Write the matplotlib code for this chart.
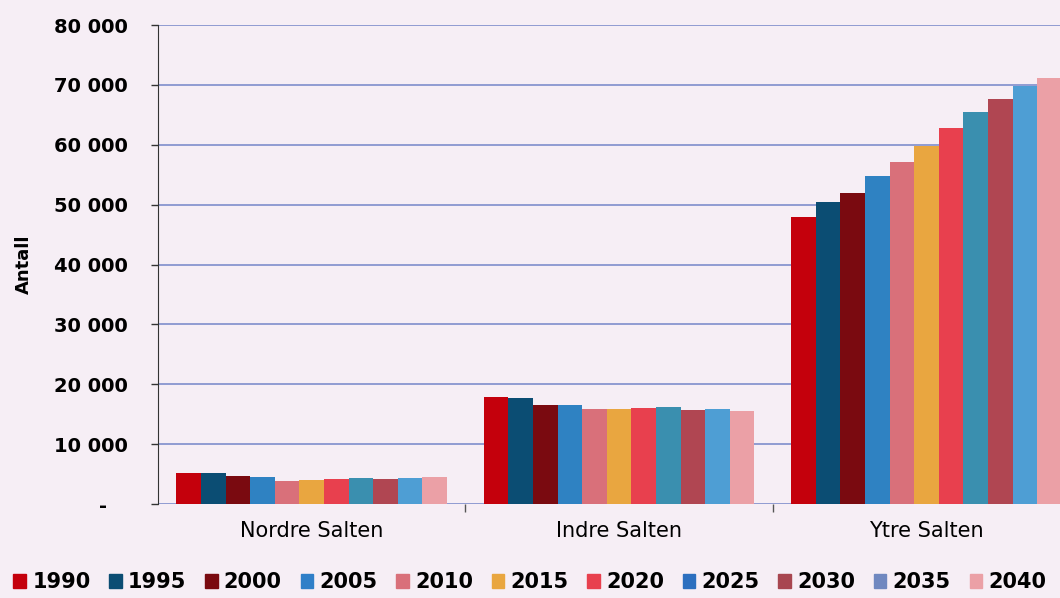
import numpy as np
import matplotlib.pyplot as plt
from matplotlib.ticker import FuncFormatter

# values
regions = ['Nordre Salten', 'Indre Salten', 'Ytre Salten']
years = ['1990', '1995', '2000', '2005', '2010', '2015', '2020', '2025', '2030', '2035', '2040']
nordre = [5200, 5150, 4700, 4600, 3900, 4100, 4200, 4300, 4200, 4400, 4450]
indre = [17900, 17800, 16600, 16500, 15900, 15900, 16000, 16200, 15800, 15900, 15500]
ytre = [47900, 50500, 52000, 54800, 57100, 59800, 62800, 65500, 67600, 69800, 71200]
colors = ['#C4000C', '#0B4D73', '#7A0A10', '#2F82C2', '#D9707A', '#E9A640',
          '#E8404E', '#3A8FAF', '#B04652', '#4E9ED4', '#EBA0A6']
legend_colors = ['#C4000C', '#0B4D73', '#7A0A10', '#2F7FC8', '#D9707A', '#E9A640',
                 '#E8404E', '#2C6FBF', '#A84650', '#7088C0', '#EBA0A6']

bg = '#F6EEF5'
fig = plt.figure(figsize=(10.6, 5.98), dpi=100, facecolor=bg)
ax = fig.add_axes([0.149, 0.157, 0.870, 0.801])
ax.set_facecolor(bg)

data = np.array([nordre, indre, ytre])
x = np.arange(len(regions))
w = 1 / 12.5
for i, yr in enumerate(years):
    ax.bar(x + (i - 5) * w, data[:, i], width=w, color=colors[i], zorder=3)

ax.set_xlim(-0.5, 2.5)
ax.set_ylim(0, 80000)
ax.set_yticks(np.arange(0, 80001, 10000))
ax.yaxis.set_major_formatter(FuncFormatter(
    lambda v, p: '-   ' if v == 0 else f'{int(v):,}'.replace(',', ' ')))
ax.yaxis.grid(True, color='#7F8DCC', linewidth=1.2, zorder=0)
for s in ['top', 'right', 'bottom']:
    ax.spines[s].set_visible(False)
ax.spines['left'].set_color('#333333')
ax.tick_params(axis='y', length=5, width=1, color='#333333', pad=17, labelsize=14)
for lab in ax.get_yticklabels():
    lab.set_fontweight('bold')

ax.set_xticks(x)
ax.set_xticklabels(regions, fontsize=15, fontweight='medium')
ax.set_xticks([0.5, 1.5], minor=True)
ax.tick_params(axis='x', which='major', length=0, pad=12)
ax.tick_params(axis='x', which='minor', length=6, width=1, color='#555555')

ax.set_ylabel('Antall', fontsize=13, fontweight='bold')
ax.yaxis.set_label_coords(-0.136, 0.5)

handles = [plt.Rectangle((0, 0), 1, 1, color=c) for c in legend_colors]
fig.legend(handles, years, loc='lower left', bbox_to_anchor=(-0.005, -0.022), ncol=11,
           frameon=False, prop={'size': 15, 'weight': 'bold'}, handlelength=0.6,
           handleheight=0.6, handletextpad=0.3, columnspacing=0.9)

fig.savefig('out.png', dpi=100, facecolor=bg)
